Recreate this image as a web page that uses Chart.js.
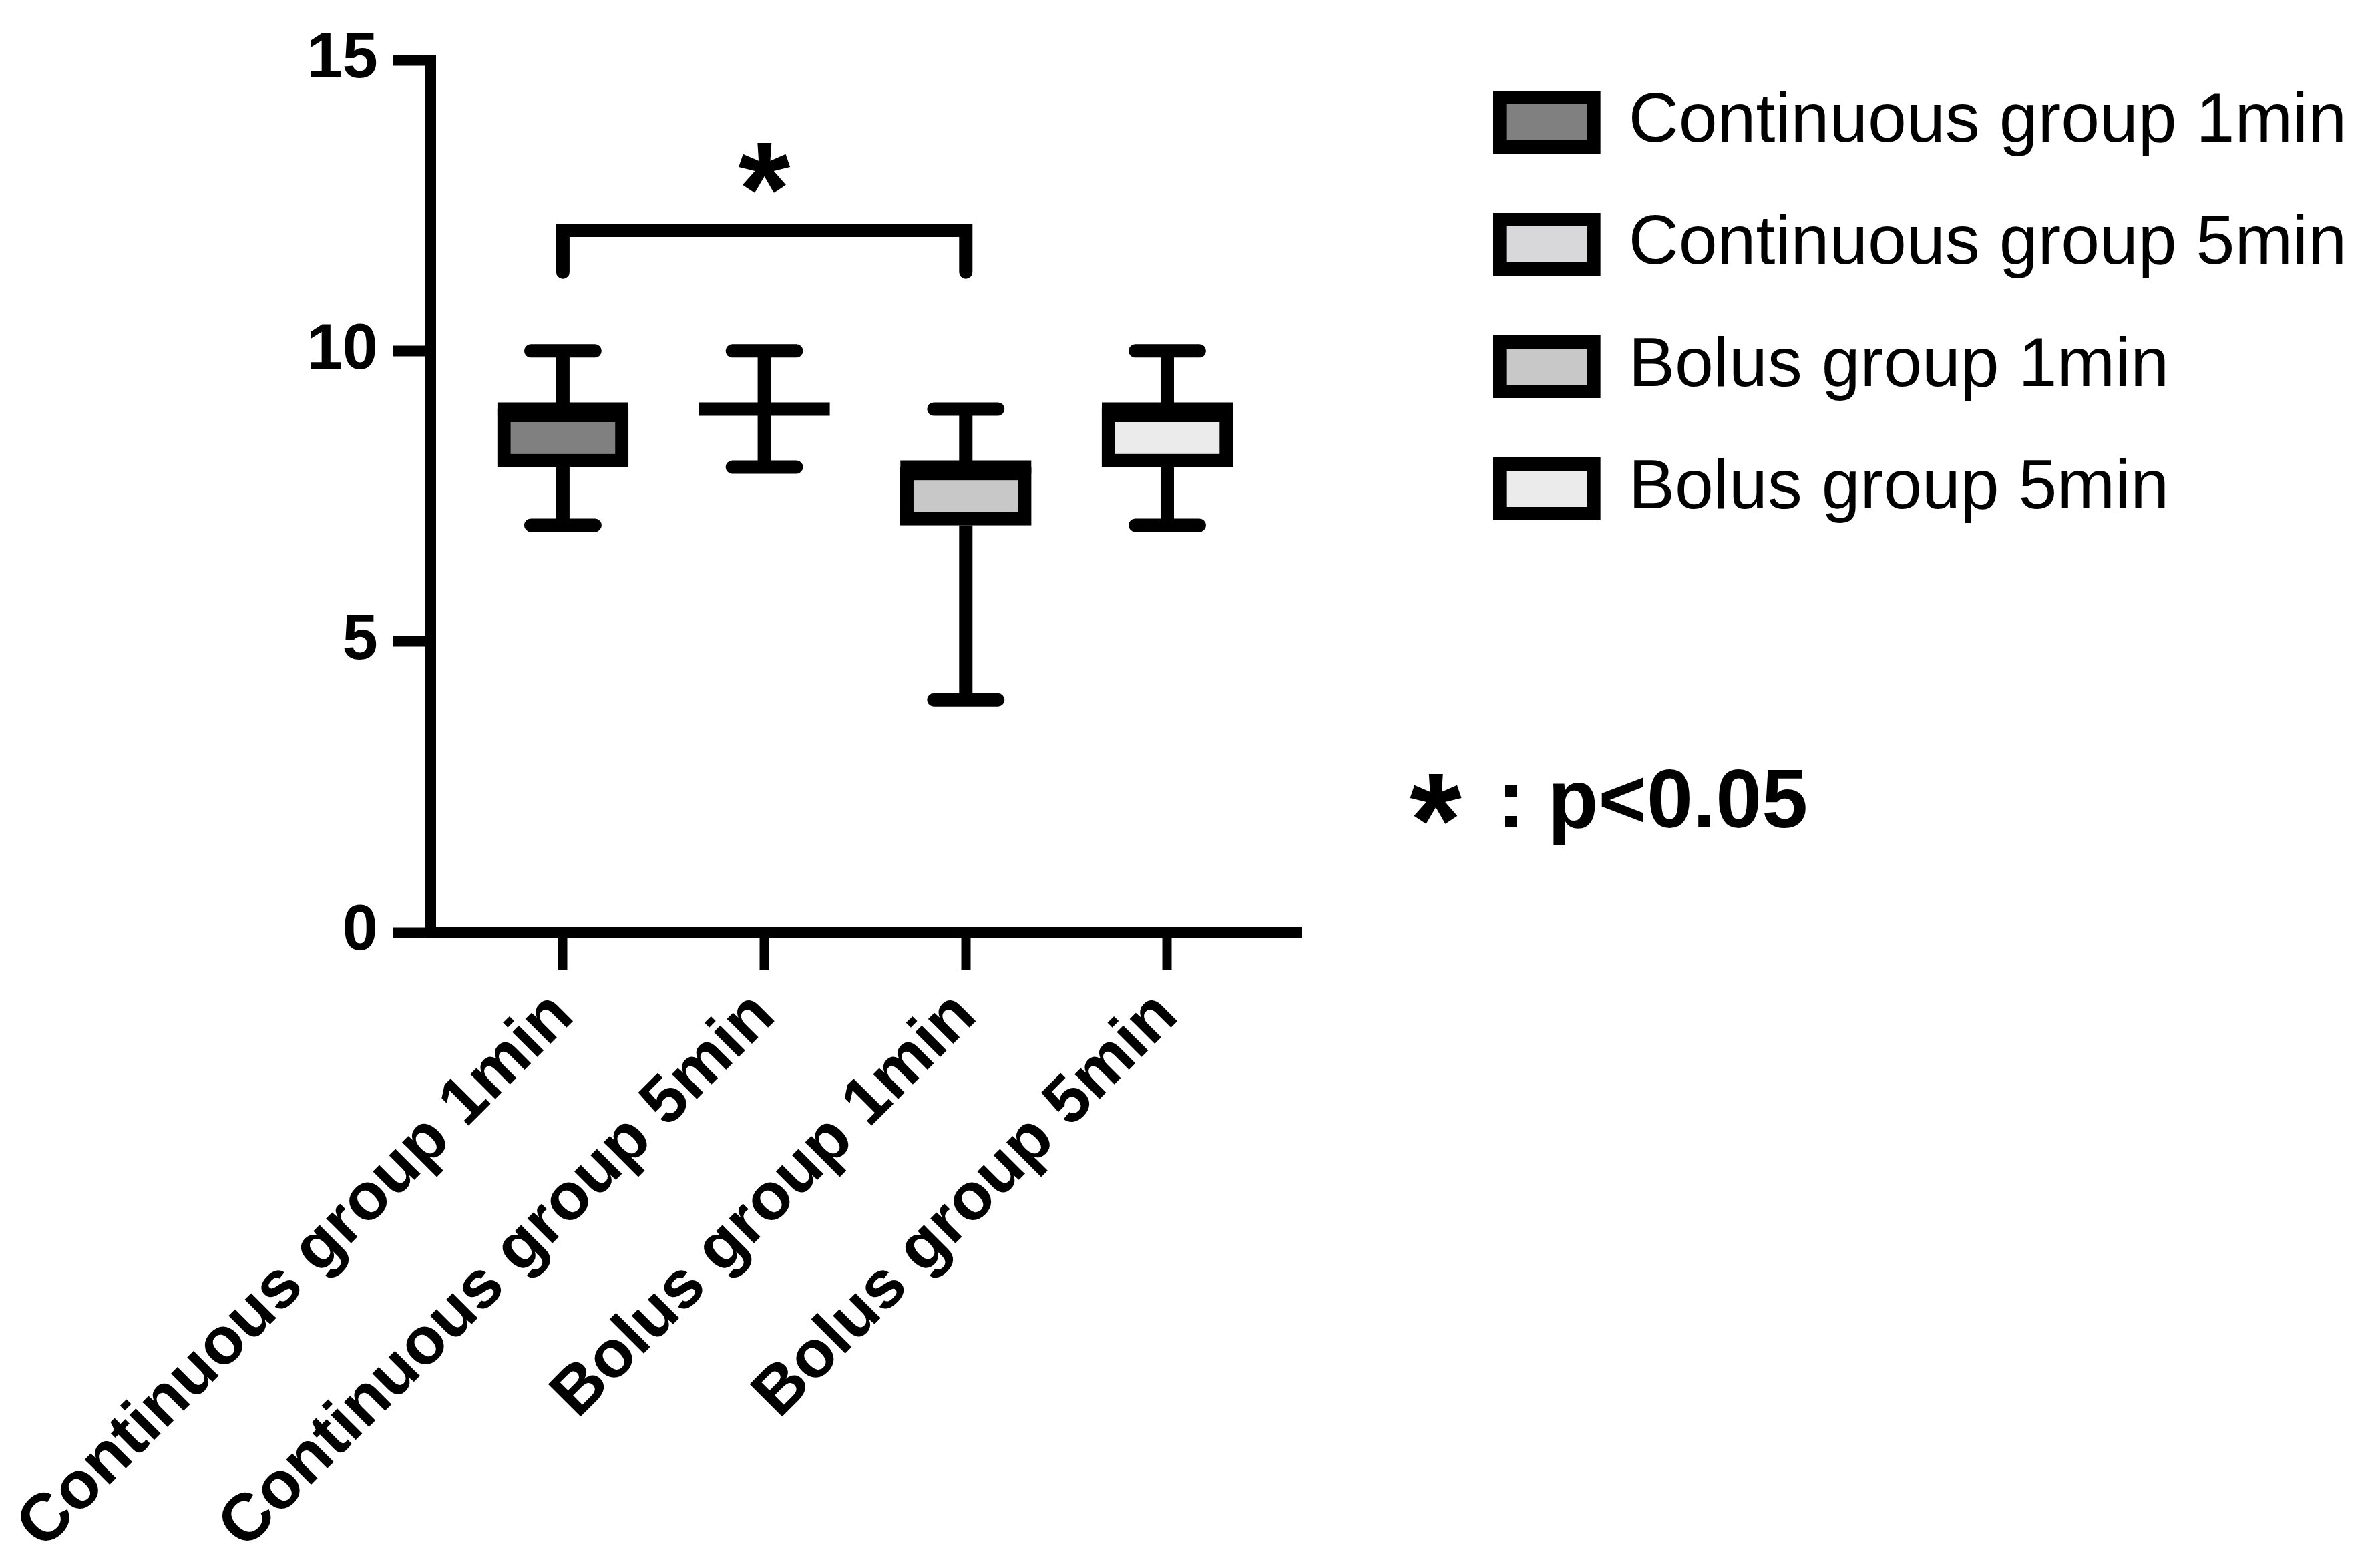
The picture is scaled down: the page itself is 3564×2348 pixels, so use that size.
<!DOCTYPE html>
<html>
<head>
<meta charset="utf-8">
<script src="https://cdn.jsdelivr.net/npm/chart.js@4.4.0/dist/chart.umd.min.js"></script>
<style>
  html, body { margin: 0; padding: 0; background: #fff; }
  #wrap { width: 3564px; height: 2348px; position: relative; }
</style>
</head>
<body>
<div id="wrap"><canvas id="chart"></canvas></div>
<script>
const categories = ['Continuous group 1min', 'Continuous group 5min', 'Bolus group 1min', 'Bolus group 5min'];
const whiskerMin = [7, 8, 4, 7];
const quartile1 = [8, 9, 7, 8];
const medians = [9, 9, 8, 9];
const quartile3 = [9, 9, 8, 9];
const whiskerMax = [10, 10, 9, 10];
const fillColors = ['#808080', '#d8d8da', '#c8c8c8', '#ebebeb'];
const yTicks = [0, 5, 10, 15];

// significance bracket between group 0 and group 2
const sigPair = [0, 2];
const sigBracketTop = 12.07;
const sigBracketLeg = 11.35;
const sigStarY = 13.14;
const sigNote = ': p<0.05';

Chart.defaults.font.family = '"Liberation Sans", Arial, sans-serif';
Chart.defaults.color = '#000';

const LINE = 20;
const BOX_W = 196;
const CAP_HALF = 48;

function drawStar(ctx, cx, cy, h) {
  ctx.save();
  ctx.font = 'bold 100px "Liberation Sans", Arial, sans-serif';
  const m = ctx.measureText('*');
  const gh = m.actualBoundingBoxAscent + m.actualBoundingBoxDescent;
  const size = 100 * h / gh;
  ctx.font = 'bold ' + size + 'px "Liberation Sans", Arial, sans-serif';
  const m2 = ctx.measureText('*');
  const w = m2.actualBoundingBoxLeft + m2.actualBoundingBoxRight;
  const x = cx - w / 2 + m2.actualBoundingBoxLeft;
  const y = cy + (m2.actualBoundingBoxAscent - m2.actualBoundingBoxDescent) / 2;
  ctx.fillStyle = '#000';
  ctx.textAlign = 'left';
  ctx.textBaseline = 'alphabetic';
  ctx.fillText('*', x, y);
  ctx.restore();
}

const boxExtras = {
  id: 'boxExtras',
  beforeDatasetsDraw(chart) {
    const { ctx, scales: { x, y } } = chart;
    ctx.save();
    ctx.strokeStyle = '#000';
    ctx.lineWidth = LINE;
    categories.forEach((c, i) => {
      const px = x.getPixelForValue(i);
      ctx.lineCap = 'butt';
      ctx.beginPath();
      ctx.moveTo(px, y.getPixelForValue(quartile3[i]));
      ctx.lineTo(px, y.getPixelForValue(whiskerMax[i]));
      ctx.moveTo(px, y.getPixelForValue(quartile1[i]));
      ctx.lineTo(px, y.getPixelForValue(whiskerMin[i]));
      ctx.stroke();
      ctx.lineCap = 'round';
      ctx.beginPath();
      ctx.moveTo(px - CAP_HALF, y.getPixelForValue(whiskerMax[i]));
      ctx.lineTo(px + CAP_HALF, y.getPixelForValue(whiskerMax[i]));
      ctx.moveTo(px - CAP_HALF, y.getPixelForValue(whiskerMin[i]));
      ctx.lineTo(px + CAP_HALF, y.getPixelForValue(whiskerMin[i]));
      ctx.stroke();
    });
    ctx.restore();
  },
  afterDatasetsDraw(chart) {
    const { ctx, scales: { x, y } } = chart;
    ctx.save();
    ctx.strokeStyle = '#000';
    ctx.lineWidth = LINE;
    ctx.lineCap = 'butt';
    categories.forEach((c, i) => {
      const px = x.getPixelForValue(i);
      const py = y.getPixelForValue(medians[i]);
      ctx.beginPath();
      ctx.moveTo(px - BOX_W / 2, py);
      ctx.lineTo(px + BOX_W / 2, py);
      ctx.stroke();
    });

    const x0 = x.getPixelForValue(sigPair[0]);
    const x1 = x.getPixelForValue(sigPair[1]);
    const yTop = y.getPixelForValue(sigBracketTop);
    const yLeg = y.getPixelForValue(sigBracketLeg);
    ctx.lineCap = 'round';
    ctx.lineJoin = 'miter';
    ctx.beginPath();
    ctx.moveTo(x0, yLeg);
    ctx.lineTo(x0, yTop);
    ctx.lineTo(x1, yTop);
    ctx.lineTo(x1, yLeg);
    ctx.stroke();
    ctx.restore();

    drawStar(ctx, (x0 + x1) / 2, y.getPixelForValue(sigStarY), 76);
  },
  afterDraw(chart) {
    const { ctx } = chart;
    drawStar(ctx, 2150, 1196, 76);
    ctx.save();
    ctx.fillStyle = '#000';
    ctx.font = 'bold 124px "Liberation Sans", Arial, sans-serif';
    ctx.textAlign = 'left';
    ctx.textBaseline = 'alphabetic';
    ctx.fillText(sigNote, 2242, 1239);
    ctx.restore();
  }
};

const datasets = categories.map((c, i) => ({
  label: c,
  data: [{ x: i, y: [quartile1[i], quartile3[i]] }],
  backgroundColor: fillColors[i],
  borderColor: '#000',
  borderWidth: LINE,
  borderSkipped: false,
  barThickness: BOX_W,
  grouped: false
}));

new Chart(document.getElementById('chart'), {
  type: 'bar',
  data: { datasets },
  plugins: [boxExtras],
  options: {
    responsive: true,
    maintainAspectRatio: false,
    animation: false,
    layout: { padding: { top: 52, right: 40, bottom: 0, left: 0 } },
    plugins: {
      tooltip: { enabled: false },
      legend: {
        position: 'right',
        align: 'start',
        maxWidth: 1500,
        labels: {
          boxWidth: 141,
          boxHeight: 74,
          padding: 79,
          color: '#000',
          font: { size: 104 }
        }
      }
    },
    scales: {
      x: {
        type: 'linear',
        offset: false,
        min: -0.656,
        max: 3.663,
        afterBuildTicks: (s) => { s.ticks = categories.map((c, i) => ({ value: i })); },
        afterFit: (s) => { s.height = 952; s.paddingLeft = 0; s.paddingRight = 0; },
        ticks: {
          autoSkip: false,
          minRotation: 45,
          maxRotation: 45,
          padding: 10,
          color: '#000',
          font: { size: 100, weight: 'bold' },
          callback: (v) => categories[v] ?? ''
        },
        grid: {
          display: true,
          offset: false,
          drawOnChartArea: false,
          drawTicks: true,
          tickLength: 57,
          tickWidth: 14,
          tickColor: '#000'
        },
        border: { display: true, width: 16, color: '#000' }
      },
      y: {
        min: 0,
        max: 15,
        afterBuildTicks: (s) => { s.ticks = yTicks.map(v => ({ value: v })); },
        afterFit: (s) => { s.width = 645; s.paddingTop = 90; s.paddingBottom = 0; },
        ticks: {
          padding: 23,
          color: '#000',
          font: { size: 96, weight: 'bold' }
        },
        grid: {
          display: true,
          drawOnChartArea: false,
          drawTicks: true,
          tickLength: 56,
          tickWidth: 16,
          tickColor: '#000'
        },
        border: { display: true, width: 16, color: '#000' }
      },
      gap: {
        type: 'linear',
        position: 'right',
        display: true,
        grid: { display: false },
        border: { display: false },
        ticks: { display: false },
        afterFit: (s) => {
          const lg = s.chart.legend;
          s.width = Math.max(0, s.chart.width - 40 - (lg ? lg.width : 0) - 1948);
        }
      }
    }
  }
});
</script>
</body>
</html>
